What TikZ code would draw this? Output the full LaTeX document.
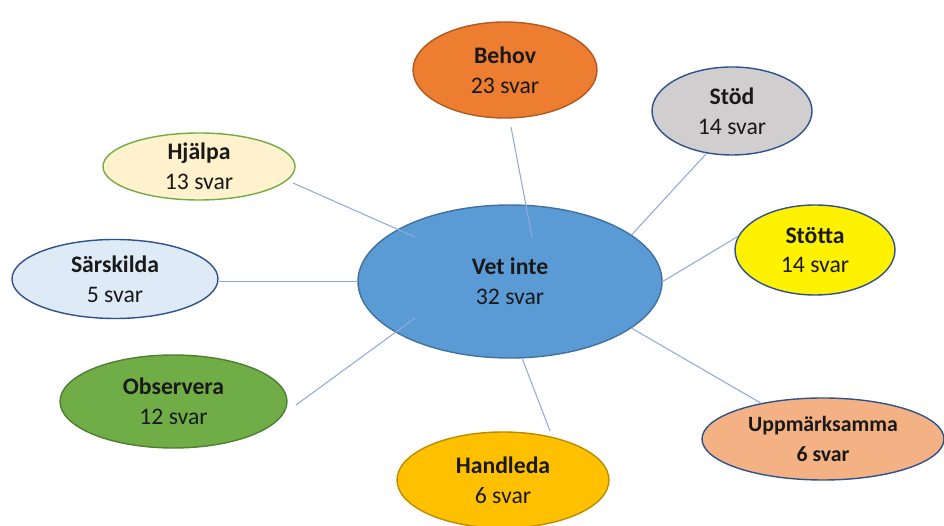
\documentclass[tikz,border=0pt]{standalone}
\usepackage{fontspec}
\setmainfont{Carlito}
\usetikzlibrary{shapes.geometric}
\definecolor{vetfill}{HTML}{5B9BD5}
\definecolor{vetline}{HTML}{41719C}
\definecolor{blueline}{HTML}{2F528F}
\definecolor{linkblue}{HTML}{8FAADC}
\definecolor{behovfill}{HTML}{ED7D31}
\definecolor{behovline}{HTML}{AE5A21}
\definecolor{stodfill}{HTML}{D0CECE}
\definecolor{uppfill}{HTML}{F4B183}
\definecolor{handfill}{HTML}{FFC000}
\definecolor{handline}{HTML}{BC8C00}
\definecolor{obsfill}{HTML}{70AD47}
\definecolor{obsline}{HTML}{507E32}
\definecolor{sarfill}{HTML}{DEEBF7}
\definecolor{hjfill}{HTML}{FFF2CC}
\definecolor{hjline}{HTML}{70AD47}
\begin{document}
\begin{tikzpicture}[x=0.02cm,y=-0.02cm,
		bubble/.style={ellipse,draw=blueline,line width=0.8pt,inner sep=0pt,align=center,text=black!90,font=\fontsize{13.5}{17}\selectfont},
		link/.style={draw=linkblue,line width=0.6pt}]
	\def\px{0.02cm}
	\useasboundingbox (0,0) rectangle (944,526);
	% Bubblorna
	\node[bubble,fill=vetfill,draw=vetline,minimum width=304*\px,minimum height=153*\px] (vet) at (510,281.5) {\textbf{Vet inte}\\32 svar};
	\node[bubble,fill=behovfill,draw=behovline,minimum width=184*\px,minimum height=96*\px] (behov) at (505,70) {\textbf{Behov}\\23 svar};
	\node[bubble,fill=stodfill,minimum width=160*\px,minimum height=88*\px] (stod) at (732,111) {\textbf{Stöd}\\14 svar};
	\node[bubble,fill=yellow,minimum width=160*\px,minimum height=90*\px] (stotta) at (815,250) {\textbf{Stötta}\\14 svar};
	\node[bubble,fill=uppfill,minimum width=242*\px,minimum height=82*\px,font=\fontsize{12.4}{17.5}\selectfont] (upp) at (823,439) {\textbf{Uppmärksamma}\\\textbf{6 svar}};
	\node[bubble,fill=handfill,draw=handline,minimum width=212*\px,minimum height=96*\px] (handleda) at (503,480) {\textbf{Handleda}\\6 svar};
	\node[bubble,fill=obsfill,draw=obsline,minimum width=227*\px,minimum height=93*\px] (observera) at (173.5,401.5) {\textbf{Observera}\\12 svar};
	\node[bubble,fill=sarfill,minimum width=206*\px,minimum height=79*\px] (sarskilda) at (115,279) {\textbf{Särskilda}\\5 svar};
	\node[bubble,fill=hjfill,draw=hjline,minimum width=192*\px,minimum height=67*\px] (hjalpa) at (199,166.5) {\textbf{Hjälpa}\\13 svar};
	% Fria linjeändar
	\coordinate (hj-out) at (293,183);
	\coordinate (hj-in) at (415,237);
	\coordinate (be-out) at (511,127);
	\coordinate (be-in) at (532,237);
	\coordinate (ob-out) at (296,405);
	\coordinate (ob-in) at (415,318);
	\coordinate (hd-out) at (550,431);
	% Linjer
	\draw[link] (hj-out) -- (hj-in);
	\draw[link] (be-out) -- (be-in);
	\draw[link] (stod.239) -- (vet.21);
	\draw[link] (stotta.170) -- (vet.east);
	\draw[link] (upp.150) -- (vet.339);
	\draw[link] (hd-out) -- (vet.279);
	\draw[link] (ob-out) -- (ob-in);
	\draw[link] (vet.west) -- (vet.west -| sarskilda.east);
\end{tikzpicture}
\end{document}
